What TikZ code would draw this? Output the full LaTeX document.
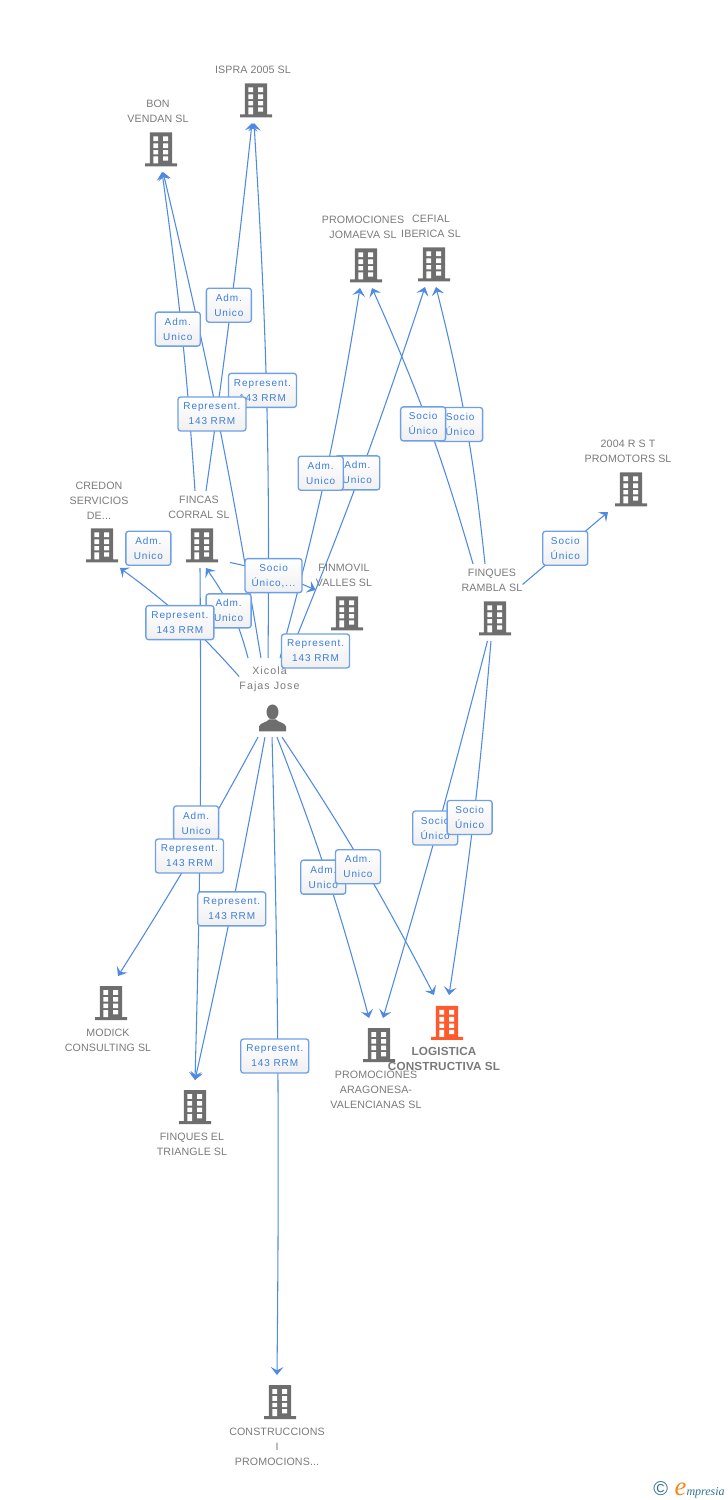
\documentclass[tikz,border=0pt]{standalone}
\usepackage{fontspec}
\setmainfont{Liberation Sans}[LetterSpace=1]
\newfontfamily\lblfont{Liberation Sans}[LetterSpace=9]
\newfontfamily\personfont{Liberation Sans}[LetterSpace=10]
\newfontfamily\logofont{Liberation Serif}
\usetikzlibrary{arrows.meta}
\definecolor{linkblue}{HTML}{4F8AE2}
\definecolor{boxblue}{HTML}{6EA0E8}
\definecolor{lbltext}{HTML}{3B7DDD}
\definecolor{nodegray}{HTML}{6E6E6E}
\definecolor{txtgray}{HTML}{7A7A7A}
\definecolor{mainred}{HTML}{FF5A2C}
\definecolor{logoblue}{HTML}{2F7391}
\definecolor{logoorange}{HTML}{F28A1E}
\newsavebox\bldgbox
\newsavebox\bldgredbox
\newsavebox\personbox
\newcommand\mkbldg[1]{\tikz[x=.75pt,y=.75pt]{
    \fill[#1] (0,0) rectangle (32,3) (4.8,3) rectangle (27,34);
    \fill[white] (8.3,25.3) rectangle (13.2,30) (18,25.3) rectangle (23,30)
        (8.3,18.4) rectangle (13.2,23) (18,18.4) rectangle (23,23)
        (8.3,12) rectangle (13.2,16.4) (18,12) rectangle (23,16.4)
        (8.3,3) rectangle (13.2,10) (18,5.8) rectangle (23,10);
}}
\sbox\bldgbox{\mkbldg{nodegray}}
\sbox\bldgredbox{\mkbldg{mainred}}
\sbox\personbox{\tikz[x=.75pt,y=.75pt]{
    \fill[nodegray] (13.5,19.5) ellipse (6 and 7.5);
    \fill[nodegray] (0,0) -- (27,0) -- (27,5) .. controls (26,9) and (19,9) .. (17,12)
        -- (10,12) .. controls (8,9) and (1,9) .. (0,5) -- cycle;
}}
\newcommand\upicon{\\[6pt]\hspace*{4.5pt}\usebox\bldgbox}
\newcommand\downicon{\hspace*{4.5pt}\raisebox{0pt}[28.9pt]{\usebox\bldgbox}\\[.75pt]}
\tikzset{
    x=.75pt, y=-.75pt,
    >={Stealth[length=6pt,width=9.5pt,inset=2.5pt]},
    company/.style={align=center, inner xsep=0pt, inner ysep=4pt, text=txtgray,
        font=\fontsize{8pt}{11.25pt}\selectfont},
    above company/.style={company, anchor=south},
    below company/.style={company, anchor=north},
    link/.style={->, draw=linkblue, line width=.8pt},
    every edge/.style={link},
    lbl/.style={draw=boxblue, line width=1pt, rounded corners=2pt, top color=white,
        bottom color=black!6, text=lbltext, align=center, inner sep=0pt,
        minimum width=33.75pt, minimum height=25.5pt,
        font=\lblfont\fontsize{7.5pt}{11.25pt}\selectfont},
    lblrep/.style={lbl, minimum width=51pt},
    lblsoc/.style={lbl, minimum width=42.75pt},
}
\begin{document}
\begin{tikzpicture}
    \useasboundingbox (0,0) rectangle (728,1500);

    % companies above the person
    \node[above company] (ispra) at (253,123) {ISPRA 2005 SL\upicon};
    \node[above company] (bon) at (158,172) {BON\\VENDAN SL\upicon};
    \node[above company] (jomaeva) at (363,288) {PROMOCIONES\\JOMAEVA SL\upicon};
    \node[above company] (cefial) at (431,287) {CEFIAL\\IBERICA SL\upicon};
    \node[above company] (rst) at (628,512) {2004 R S T\\PROMOTORS SL\upicon};
    \node[above company] (credon) at (99,568) {CREDON\\SERVICIOS\\DE...\upicon};
    \node[above company] (fincas) at (199,568) {FINCAS\\CORRAL SL\upicon};
    \node[above company] (finmovil) at (344,636) {FINMOVIL\\VALLES SL\upicon};
    \node[above company] (rambla) at (492,641) {FINQUES\\RAMBLA SL\upicon};

    % the person
    \node[company, anchor=north, font=\personfont\fontsize{8pt}{11.25pt}\selectfont] (xicola) at (269.5,658)
        {\rule{0pt}{8.25pt}Xicola\\Fajas Jose\\[8.5pt]\hspace*{4.5pt}\usebox\personbox};

    % companies below the person
    \node[below company] (modick) at (108,976) {\downicon MODICK\\CONSULTING SL};
    \node[below company] (triangle) at (192,1080) {\downicon FINQUES EL\\TRIANGLE SL};
    \node[below company] (aragonesas) at (376,1018) {\downicon PROMOCIONES\\ARAGONESA-\\VALENCIANAS SL};
    \node[below company, font=\bfseries\fontsize{8.8pt}{11.25pt}\selectfont] (logistica) at (444,995)
        {\hspace*{4.5pt}\raisebox{0pt}[29.5pt]{\usebox\bldgredbox}\\[.75pt]LOGISTICA\\CONSTRUCTIVA SL};
    \node[below company] (construccions) at (277,1375) {\downicon CONSTRUCCIONS\\I\\PROMOCIONS...};

    \path
        ([xshift=-6.4pt]xicola.north) edge[bend right=2] coordinate (mXBon) ([xshift=3.75pt]bon.south)
        ([xshift=-1.1pt]xicola.north) edge[bend right=2] coordinate (mXIspra) ([xshift=.75pt]ispra.south)
        ([xshift=7.9pt]xicola.north) edge[bend right=3] coordinate (mXJomaeva) ([xshift=-2.25pt]jomaeva.south)
        ([xshift=13.9pt]xicola.north) edge[bend right=2] coordinate (mXCefial) ([xshift=-4.5pt]cefial.south)
        ([xshift=-16.1pt]xicola.north) edge[bend right=10] coordinate (mXFincas) ([xshift=5.25pt]fincas.south)
        ([yshift=15.75pt]xicola.west) edge[bend right=6] coordinate (mXCredon) ([xshift=15.75pt]credon.south)
        (xicola.north east) edge coordinate (mXFinmovil) ([xshift=-5pt]finmovil.south)
        ([xshift=-8.6pt]xicola.south) edge[bend left=2] coordinate (mXModick) ([xshift=7.5pt]modick.north)
        ([xshift=-3.4pt]xicola.south) edge[bend left=1] coordinate (mXTriangle) ([xshift=2.25pt]triangle.north)
        ([xshift=1.9pt]xicola.south) edge[bend left=1] coordinate (mXConstr) (construccions.north)
        ([xshift=5.6pt]xicola.south) edge[bend left=3] coordinate (mXArag) ([xshift=-5.25pt]aragonesas.north)
        ([xshift=9.4pt]xicola.south) edge[bend left=3] coordinate (mXLog) ([xshift=-7.5pt]logistica.north)
        ([xshift=-3pt]fincas.north) edge[bend right=2] coordinate (mFBon) ([xshift=3pt]bon.south)
        ([xshift=5.25pt]fincas.north) edge[bend right=1] coordinate (mFIspra) ([xshift=-.75pt]ispra.south)
        ([yshift=-15pt]fincas.west) edge coordinate (mFCredon) ([yshift=-18.75pt]credon.east)
        ([yshift=-24.75pt]fincas.east) edge[bend left=6] coordinate (mFFinmovil) ([yshift=5.6pt]finmovil.west)
        ([xshift=.75pt]fincas.south) edge[bend left=1] coordinate (mFTriangle) ([xshift=2.25pt]triangle.north)
        ([xshift=-14.25pt]rambla.north) edge[bend right=4] coordinate (mRJomaeva) ([xshift=6.75pt]jomaeva.south)
        ([xshift=-5.25pt]rambla.north) edge[bend right=4] coordinate (mRCefial) ([xshift=3.75pt]cefial.south)
        ([yshift=13.5pt]rambla.east) edge coordinate (mRRst) ([xshift=-15pt]rst.south)
        ([xshift=-3.4pt]rambla.south) edge[bend left=1] coordinate (mRArag) ([xshift=5.25pt]aragonesas.north)
        ([xshift=-.75pt]rambla.south) edge[bend left=2] coordinate (mRLog) ([xshift=3.75pt]logistica.north)
    ;

    % labels, later ones lie over earlier ones
    \node[lblrep, xshift=-3pt] (lXIspra) at (mXIspra) {Represent.\\143 RRM};
    \node[lblrep, xshift=-3.75pt] (lXBon) at (mXBon) {Represent.\\143 RRM};
    \node[lbl, xshift=-3pt, yshift=1.5pt] (lFBon) at (mFBon) {Adm.\\Unico};
    \node[lbl, xshift=-1.5pt, yshift=1.5pt] (lFIspra) at (mFIspra) {Adm.\\Unico};
    \node[lbl, xshift=-2.25pt, yshift=.75pt] (lXCefial) at (mXCefial) {Adm.\\Unico};
    \node[lbl, xshift=-3.75pt, yshift=.75pt] (lXJomaeva) at (mXJomaeva) {Adm.\\Unico};
    \node[lbl, xshift=-4.5pt] (lRCefial) at (mRCefial) {Socio\\Único};
    \node[lbl, xshift=-3.75pt] (lRJomaeva) at (mRJomaeva) {Socio\\Único};
    \node[lbl] (lRRst) at (mRRst) {Socio\\Único};
    \node[lbl] (lFCredon) at (mFCredon) {Adm.\\Unico};
    \node[lbl, xshift=-2.25pt] (lXFincas) at (mXFincas) {Adm.\\Unico};
    \node[lblrep, xshift=-2.25pt, yshift=-3pt] (lXCredon) at (mXCredon) {Represent.\\143 RRM};
    \node[lblsoc, yshift=-1.5pt] (lFFinmovil) at (mFFinmovil) {Socio\\Único,...};
    \node[lblrep, xshift=-2.25pt, yshift=-3pt] (lXFinmovil) at (mXFinmovil) {Represent.\\143 RRM};
    \node[lbl, xshift=-3pt, yshift=.75pt] (lFTriangle) at (mFTriangle) {Adm.\\Unico};
    \node[lblrep, xshift=-.75pt, yshift=1.5pt] (lXModick) at (mXModick) {Represent.\\143 RRM};
    \node[lblrep] (lXTriangle) at (mXTriangle) {Represent.\\143 RRM};
    \node[lblrep, xshift=-2.25pt] (lXConstr) at (mXConstr) {Represent.\\143 RRM};
    \node[lbl, xshift=-3pt, yshift=-.75pt] (lXArag) at (mXArag) {Adm.\\Unico};
    \node[lbl, xshift=-3pt, yshift=-2.25pt] (lXLog) at (mXLog) {Adm.\\Unico};
    \node[lbl, xshift=-1.5pt, yshift=1.5pt] (lRArag) at (mRArag) {Socio\\Único};
    \node[lbl, xshift=-3pt, yshift=.75pt] (lRLog) at (mRLog) {Socio\\Único};

    \node[anchor=base east, inner sep=0pt, text=logoblue] (logo) at (725,1495)
        {\fontsize{15pt}{15pt}\selectfont ©\hspace{5pt}\logofont\itshape{\color{logoorange}\fontsize{20pt}{20pt}\selectfont e}\fontsize{9pt}{9pt}\selectfont mpresia};
\end{tikzpicture}
\end{document}
